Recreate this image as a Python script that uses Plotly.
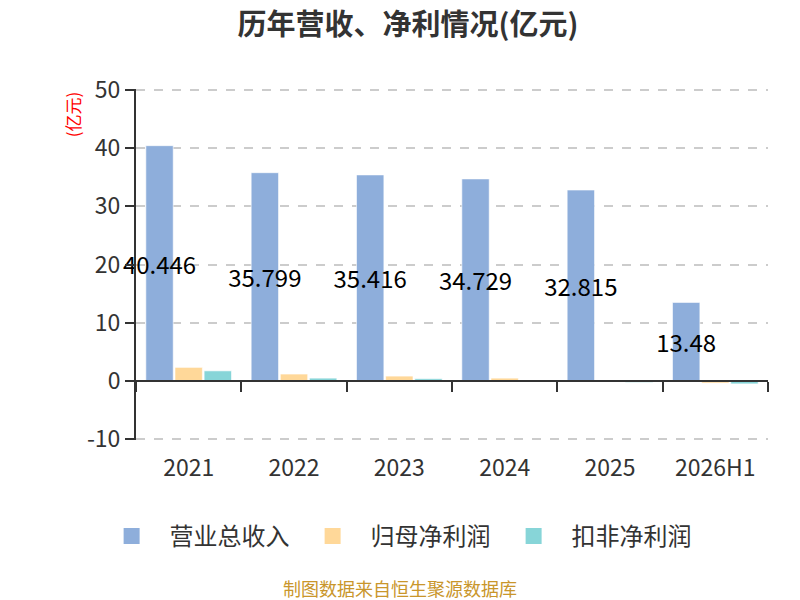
import plotly.graph_objects as go

years = ['2021', '2022', '2023', '2024', '2025', '2026H1']
revenue = [40.446, 35.799, 35.416, 34.729, 32.815, 13.48]
net_profit = [2.3, 1.15, 0.8, 0.45, -0.05, -0.4]
deducted_profit = [1.7, 0.45, 0.35, 0.05, -0.3, -0.55]
revenue_labels = ['40.446', '35.799', '35.416', '34.729', '32.815', '13.48']
y_ticks = [-10, 0, 10, 20, 30, 40, 50]
y_tick_labels = ['-10', '0', '10', '20', '30', '40', '50']

names = ['营业总收入', '归母净利润', '扣非净利润']
colors = ['#8eaedb', '#ffd899', '#87d5d8']
series = [revenue, net_profit, deducted_profit]

font_cn = 'Noto Sans CJK SC'
edge = dict(color='rgba(255,255,255,0.6)', width=1)

fig = go.Figure()
for i, (name, color, vals) in enumerate(zip(names, colors, series)):
    bar = go.Bar(x=years, y=vals, name=name, legendgroup=name, showlegend=False,
                 marker=dict(color=color, line=edge), cliponaxis=False)
    if i == 0:
        bar.update(text=revenue_labels, textposition='inside',
                   insidetextanchor='middle', constraintext='none', textangle=0,
                   textfont=dict(color='#000000', size=24, family=font_cn))
    fig.add_trace(bar)

# legend-only entries with bigger swatches
for name, color in zip(names, colors):
    fig.add_trace(go.Scatter(x=[None], y=[None], mode='markers', name=name,
                             legendgroup=name,
                             marker=dict(symbol='square', size=30, color=color)))

# invisible trace so the zero-level axis (x2) gets drawn
fig.add_trace(go.Bar(
    x=years, y=[0] * len(years), xaxis='x2', showlegend=False,
    hoverinfo='skip', marker=dict(color='rgba(0,0,0,0)'),
))

fig.update_layout(
    width=800, height=600,
    margin=dict(l=128, r=40, t=81, b=168),
    plot_bgcolor='white', paper_bgcolor='white',
    font=dict(family=font_cn, color='#333333'),
    title=dict(text='<b>历年营收、净利情况(亿元)</b>', x=0.5, xanchor='center',
               y=0.972, yanchor='middle', font=dict(size=29, color='#333333')),
    barmode='group', bargap=0.17, bargroupgap=0.06,
    uniformtext=dict(minsize=24, mode='show'),
    xaxis=dict(showline=False, ticks='', showgrid=False,
               tickfont=dict(size=23, color='#333333'), ticklabelstandoff=12),
    xaxis2=dict(overlaying='x', matches='x', anchor='free', position=10.2 / 60.4,
                showline=True, linecolor='#333333', linewidth=2,
                ticks='outside', tickson='boundaries', ticklen=10, tickwidth=2,
                tickcolor='#333333', showticklabels=False, showgrid=False),
    yaxis=dict(range=[-10.2, 50.2], tickvals=y_ticks, ticktext=y_tick_labels,
               showline=True, linecolor='#333333',
               linewidth=2, ticks='outside', ticklen=9, tickwidth=2,
               tickcolor='#333333', showgrid=True, gridcolor='#cccccc',
               griddash='dash', gridwidth=1.5, zeroline=False,
               tickfont=dict(size=23, color='#333333')),
    legend=dict(orientation='h', x=0.41, xanchor='center', y=-0.275,
                yanchor='middle', font=dict(size=24, color='#333333'),
                itemsizing='trace', itemwidth=66),
    annotations=[
        dict(text='(亿元)', xref='paper', yref='paper', x=-0.101, y=1.0,
             xanchor='center', yanchor='top', textangle=-90, showarrow=False,
             font=dict(size=17, color='#ff0000')),
        dict(text='制图数据来自恒生聚源数据库', xref='paper', yref='paper',
             x=0.418, y=-0.421, xanchor='center', yanchor='middle', showarrow=False,
             font=dict(size=18, color='#c9962b')),
    ],
)

fig.write_html('out.html')
